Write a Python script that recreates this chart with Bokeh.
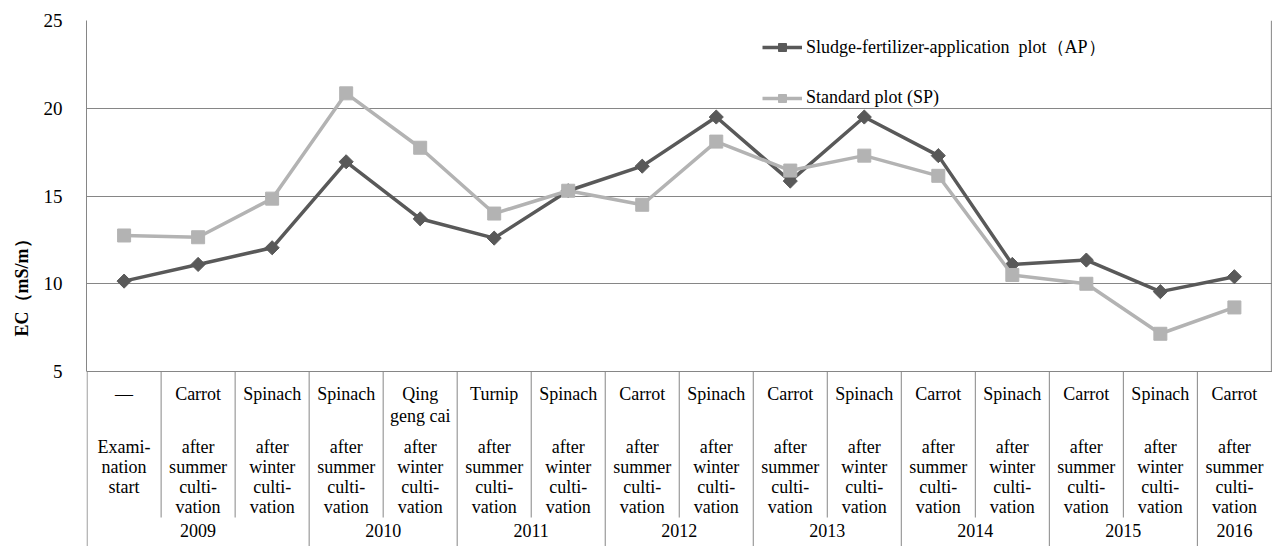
import numpy as np
from bokeh.plotting import figure
from bokeh.models import Range1d, FixedTicker, ColumnDataSource, Legend, LegendItem
from bokeh.embed import file_html
from bokeh.resources import INLINE
from bokeh.core.properties import value

# ---------------- data ----------------
crops = ["—", "Carrot", "Spinach", "Spinach", "Qing\ngeng cai", "Turnip", "Spinach",
         "Carrot", "Spinach", "Carrot", "Spinach", "Carrot", "Spinach", "Carrot",
         "Spinach", "Carrot"]
EXAM = "Exami-\nnation\nstart"
SUMMER = "after\nsummer\nculti-\nvation"
WINTER = "after\nwinter\nculti-\nvation"
timings = [EXAM, SUMMER, WINTER, SUMMER, WINTER, SUMMER, WINTER, SUMMER, WINTER,
           SUMMER, WINTER, SUMMER, WINTER, SUMMER, WINTER, SUMMER]
years = ["2009", "2010", "2011", "2012", "2013", "2014", "2015", "2016"]
year_spans = [3, 2, 2, 2, 2, 2, 2, 1]

ap_values = [10.15, 11.1, 12.05, 16.95, 13.7, 12.6, 15.3, 16.7, 19.5, 15.85, 19.5,
             17.3, 11.1, 11.35, 9.55, 10.4]
sp_values = [12.75, 12.65, 14.85, 20.85, 17.75, 14.0, 15.3, 14.5, 18.1, 16.45, 17.3,
             16.15, 10.5, 10.0, 7.15, 8.65]

ap_label = "Sludge-fertilizer-application  plot（AP）"
sp_label = "Standard plot (SP)"
y_title = "EC（mS/m）"

# ---------------- layout ----------------
FONT = "'Times New Roman', 'Liberation Serif', serif"
W, H = 1272, 546
LEFT, TOP = 86, 20
PX_PER_UNIT = 17.55
Y_MIN, Y_MAX = 5, 25
y_bottom = Y_MAX - (H - TOP) / PX_PER_UNIT
GRID = "#868686"
AP_C = "#595959"
SP_C = "#B3B3B3"

n = len(crops)
xc = np.arange(n) + 0.5

p = figure(width=W, height=H,
           x_range=Range1d(-0.008, n + 0.015), y_range=Range1d(y_bottom, Y_MAX),
           output_backend="svg", toolbar_location=None, x_axis_location=None,
           min_border_left=LEFT, min_border_right=0, min_border_top=TOP,
           min_border_bottom=0, outline_line_color=None)
p.background_fill_color = "white"

ax = p.yaxis[0]
ax.ticker = FixedTicker(ticks=[5, 10, 15, 20, 25])
ax.bounds = (Y_MIN, Y_MAX)
ax.major_tick_out = 0
ax.major_tick_in = 0
ax.minor_tick_out = 0
ax.minor_tick_in = 0
ax.axis_line_color = GRID
ax.major_label_text_font = FONT
ax.major_label_text_font_size = "19px"
ax.major_label_text_color = "black"
ax.major_label_standoff = 24
ax.axis_label = y_title
ax.axis_label_text_font = FONT
ax.axis_label_text_font_style = "bold"
ax.axis_label_text_font_size = "18px"
ax.axis_label_text_color = "black"
ax.axis_label_standoff = 9

p.xgrid.visible = False
p.ygrid.grid_line_color = GRID
p.ygrid.grid_line_width = 1

# borders / table separators
year_bounds = list(np.cumsum(year_spans)[:-1])
inner_bounds = [k for k in range(1, n) if k not in year_bounds]
inner_end = Y_MIN - (517 - 371) / PX_PER_UNIT

p.segment(x0=[0], y0=[Y_MIN], x1=[0], y1=[y_bottom], line_color=GRID, line_width=1)
p.segment(x0=[n], y0=[Y_MIN], x1=[n], y1=[Y_MAX], line_color=GRID, line_width=1)
p.segment(x0=year_bounds, y0=[Y_MIN] * len(year_bounds), x1=year_bounds,
          y1=[y_bottom] * len(year_bounds), line_color=GRID, line_width=1)
p.segment(x0=inner_bounds, y0=[Y_MIN] * len(inner_bounds), x1=inner_bounds,
          y1=[inner_end] * len(inner_bounds), line_color=GRID, line_width=1)

# table texts
tx, ty, tt, to = [], [], [], []
for i in range(n):
    for k, line in enumerate(crops[i].split("\n")):
        tx.append(xc[i]); ty.append(Y_MIN); tt.append(line); to.append(22 + 22 * k)
    for k, line in enumerate(timings[i].split("\n")):
        tx.append(xc[i]); ty.append(Y_MIN); tt.append(line); to.append(75 + 20 * k)
start = 0
for yr, span in zip(years, year_spans):
    tx.append(start + span / 2); ty.append(Y_MIN); tt.append(yr); to.append(159)
    start += span

src = ColumnDataSource(dict(x=tx, y=ty, text=tt, yo=to))
p.text(x="x", y="y", text="text", y_offset="yo", source=src,
       text_font=value(FONT), text_font_size="18px", text_align="center",
       text_baseline="middle", text_color="black")

# series
l1 = p.line(xc, ap_values, line_color=AP_C, line_width=3.5)
s1 = p.scatter(xc, ap_values, marker="square", angle=np.pi / 4, size=10,
               fill_color=AP_C, line_color=AP_C)
l2 = p.line(xc, sp_values, line_color=SP_C, line_width=3.5)
s2 = p.scatter(xc, sp_values, marker="square", size=13, fill_color=SP_C, line_color=SP_C)

legend = Legend(items=[LegendItem(label=ap_label, renderers=[l1, s1]),
                       LegendItem(label=sp_label, renderers=[l2, s2])],
                location=(676, 438))
legend.label_text_font = FONT
legend.label_text_font_size = "18px"
legend.label_text_color = "black"
legend.glyph_width = 40
legend.glyph_height = 20
legend.label_height = 20
legend.spacing = 28
legend.padding = 0
legend.margin = 0
legend.label_standoff = 4
legend.border_line_color = None
legend.background_fill_alpha = 0
p.add_layout(legend)

open("out.html", "w").write(file_html(p, INLINE))
